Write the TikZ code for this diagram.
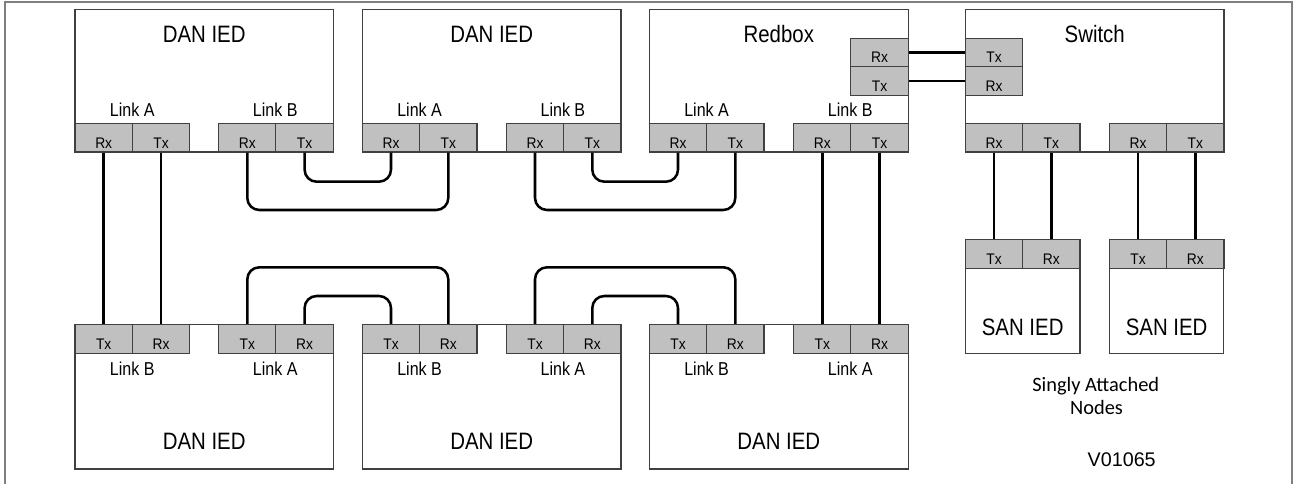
\documentclass[tikz,border=0pt]{standalone}
\usepackage{fontspec}
\setmainfont{Liberation Sans}
\newfontfamily\narrowfont[FakeStretch=0.86]{Liberation Sans}
\newfontfamily\portfont[FakeStretch=0.9]{Liberation Sans}
\newfontfamily\calibrifont{Carlito}
\usetikzlibrary{fit}
\definecolor{portgray}{RGB}{192,192,192}
\definecolor{framegray}{RGB}{128,128,128}
\definecolor{boxline}{RGB}{64,64,64}
\newcommand\pl[1]{\raisebox{-7.8pt}[0pt][0pt]{#1}}
\begin{document}
\begin{tikzpicture}[x=0.75pt,y=-0.75pt,
  box/.style={draw=boxline, line width=0.8pt, fill=white, inner sep=0pt},
  port/.style={draw=boxline, line width=0.8pt, fill=portgray, minimum width=43pt, minimum height=21.5pt, inner sep=0pt, font=\portfont\fontsize{11.5}{13}\selectfont},
  title/.style={font=\narrowfont\fontsize{17.8}{20}\selectfont, inner sep=0pt},
  linklab/.style={font=\narrowfont\fontsize{14}{16}\selectfont, inner sep=0pt},
  wire/.style={line width=1.9pt, black, rounded corners=9pt},
]
\useasboundingbox (0,0) rectangle (1293,484);
\draw[framegray, line width=1.5pt] (5,484) -- (5,2) -- (1292,2) -- (1292,484);

% ---------- top row boxes ----------
\node[box, fit={(75,9.3) (333.3,152)}] (t1) {};
\node[box, fit={(362.3,9.3) (621,152)}] (t2) {};
\node[box, fit={(649.3,9.3) (908.3,152)}] (t3) {};
\node[box, fit={(965.3,9.3) (1224,152)}] (sw) {};
% ---------- bottom row boxes ----------
\node[box, fit={(75,324.3) (333.3,469)}] (b1) {};
\node[box, fit={(362.3,324.3) (621,469)}] (b2) {};
\node[box, fit={(649.3,324.3) (908.3,469)}] (b3) {};
\node[box, fit={(965.3,239.3) (1080,353.3)}] (s1) {};
\node[box, fit={(1109.3,239.3) (1223.9,353.3)}] (s2) {};

% ---------- titles ----------
\node[title] (t1n) at (204.2,34) {DAN IED};
\node[title] (t2n) at (491.7,34) {DAN IED};
\node[title] (t3n) at (778.8,34) {Redbox};
\node[title] (swn) at (1094.7,34) {Switch};
\node[title] (b1n) at (204.2,441.7) {DAN IED};
\node[title] (b2n) at (491.7,441.7) {DAN IED};
\node[title] (b3n) at (778.8,441.7) {DAN IED};
\node[title] (s1n) at (1022.7,327.7) {SAN IED};
\node[title] (s2n) at (1166.6,327.7) {SAN IED};

% ---------- link labels ----------
\node[linklab] (t1la) at (132.3,110) {Link A};
\node[linklab] (t1lb) at (275.2,110) {Link B};
\node[linklab] (t2la) at (419.6,110) {Link A};
\node[linklab] (t2lb) at (562.9,110) {Link B};
\node[linklab] (t3la) at (706.6,110) {Link A};
\node[linklab] (t3lb) at (850.2,110) {Link B};
\node[linklab] (b1lb) at (132.3,368.3) {Link B};
\node[linklab] (b1la) at (275.2,368.3) {Link A};
\node[linklab] (b2lb) at (419.6,368.3) {Link B};
\node[linklab] (b2la) at (562.9,368.3) {Link A};
\node[linklab] (b3lb) at (706.6,368.3) {Link B};
\node[linklab] (b3la) at (850.2,368.3) {Link A};

% ---------- top ports ----------
\node[port] (t1ar) at (103.7,137.65) {\pl{Rx}};
\node[port] (t1at) at (161.0,137.65) {\pl{Tx}};
\node[port] (t1br) at (247.3,137.65) {\pl{Rx}};
\node[port] (t1bt) at (304.6,137.65) {\pl{Tx}};
\node[port] (t2ar) at (391.0,137.65) {\pl{Rx}};
\node[port] (t2at) at (448.3,137.65) {\pl{Tx}};
\node[port] (t2br) at (535.0,137.65) {\pl{Rx}};
\node[port] (t2bt) at (592.3,137.65) {\pl{Tx}};
\node[port] (t3ar) at (678.0,137.65) {\pl{Rx}};
\node[port] (t3at) at (735.3,137.65) {\pl{Tx}};
\node[port] (t3br) at (822.3,137.65) {\pl{Rx}};
\node[port] (t3bt) at (879.6,137.65) {\pl{Tx}};
\node[port] (t3sr) at (879.6,52.5) {\pl{Rx}};
\node[port] (t3st) at (879.6,80.85) {\pl{Tx}};
\node[port] (swst) at (994.0,52.5) {\pl{Tx}};
\node[port] (swsr) at (994.0,80.85) {\pl{Rx}};
\node[port] (swar) at (994.0,137.65) {\pl{Rx}};
\node[port] (swat) at (1051.3,137.65) {\pl{Tx}};
\node[port] (swbr) at (1138.0,137.65) {\pl{Rx}};
\node[port] (swbt) at (1195.3,137.65) {\pl{Tx}};

% ---------- bottom ports ----------
\node[port] (b1bt) at (103.7,338.8) {\pl{Tx}};
\node[port] (b1br) at (161.0,338.8) {\pl{Rx}};
\node[port] (b1at) at (247.3,338.8) {\pl{Tx}};
\node[port] (b1ar) at (304.6,338.8) {\pl{Rx}};
\node[port] (b2bt) at (391.0,338.8) {\pl{Tx}};
\node[port] (b2br) at (448.3,338.8) {\pl{Rx}};
\node[port] (b2at) at (535.0,338.8) {\pl{Tx}};
\node[port] (b2ar) at (592.3,338.8) {\pl{Rx}};
\node[port] (b3bt) at (678.0,338.8) {\pl{Tx}};
\node[port] (b3br) at (735.3,338.8) {\pl{Rx}};
\node[port] (b3at) at (822.3,338.8) {\pl{Tx}};
\node[port] (b3ar) at (879.6,338.8) {\pl{Rx}};
\node[port] (s1t) at (994.0,253.8) {\pl{Tx}};
\node[port] (s1r) at (1051.3,253.8) {\pl{Rx}};
\node[port] (s2t) at (1138.0,253.8) {\pl{Tx}};
\node[port] (s2r) at (1195.3,253.8) {\pl{Rx}};

% ---------- wire levels ----------
\coordinate (topOut) at (0,210);
\coordinate (topIn) at (0,181.7);
\coordinate (botOut) at (0,267.3);
\coordinate (botIn) at (0,296);

% ---------- wires ----------
\draw[wire] (t1ar.south) -- (b1bt.north);
\draw[wire] (t1at.south) -- (b1br.north);
\draw[wire] (t3br.south) -- (b3at.north);
\draw[wire] (t3bt.south) -- (b3ar.north);

\draw[wire] (t1br.south) -- (t1br.south |- topOut) -- (t2at.south |- topOut) -- (t2at.south);
\draw[wire] (t1bt.south) -- (t1bt.south |- topIn) -- (t2ar.south |- topIn) -- (t2ar.south);
\draw[wire] (t2br.south) -- (t2br.south |- topOut) -- (t3at.south |- topOut) -- (t3at.south);
\draw[wire] (t2bt.south) -- (t2bt.south |- topIn) -- (t3ar.south |- topIn) -- (t3ar.south);

\draw[wire] (b1at.north) -- (b1at.north |- botOut) -- (b2br.north |- botOut) -- (b2br.north);
\draw[wire] (b1ar.north) -- (b1ar.north |- botIn) -- (b2bt.north |- botIn) -- (b2bt.north);
\draw[wire] (b2at.north) -- (b2at.north |- botOut) -- (b3br.north |- botOut) -- (b3br.north);
\draw[wire] (b2ar.north) -- (b2ar.north |- botIn) -- (b3bt.north |- botIn) -- (b3bt.north);

\draw[wire] (t3sr.east) -- (swst.west);
\draw[wire] (t3st.east) -- (swsr.west);

\draw[wire] (swar.south) -- (s1t.north);
\draw[wire] (swat.south) -- (s1r.north);
\draw[wire] (swbr.south) -- (s2t.north);
\draw[wire] (swbt.south) -- (s2r.north);

% ---------- notes ----------
\node[font=\calibrifont\fontsize{15.3}{17.5}\selectfont, anchor=base, inner sep=0pt] (san1) at (1095.7,391.5) {Singly Attached};
\node[font=\calibrifont\fontsize{15.3}{17.5}\selectfont, anchor=base, inner sep=0pt] (san2) at (1096.5,414.3) {Nodes};
\node[font=\fontsize{14.8}{17}\selectfont, inner sep=0pt] (ver) at (1121.7,459.3) {V01065};
\end{tikzpicture}
\end{document}
